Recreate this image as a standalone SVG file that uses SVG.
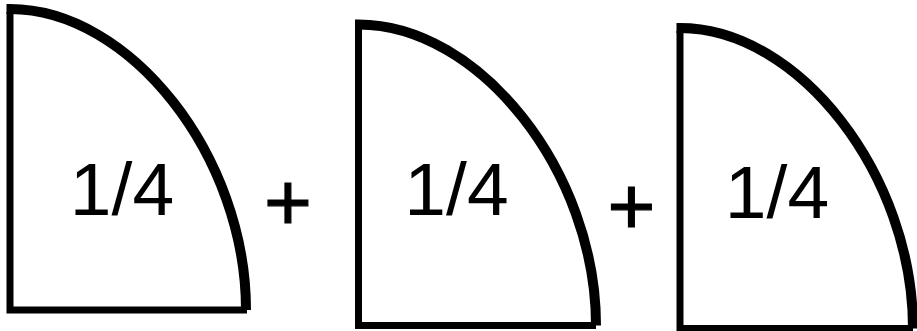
<svg xmlns="http://www.w3.org/2000/svg" width="917" height="331" viewBox="0 0 917 331">
<style>
.edge{fill:none;stroke:#000;stroke-width:7;stroke-linecap:butt}
.arc{fill:none;stroke:#000;stroke-width:10}
.frac{font-family:"Liberation Sans",Arial,sans-serif;font-size:75px;fill:#000;text-anchor:middle}
.op{font-family:"Liberation Sans",Arial,sans-serif;font-size:82px;fill:#000;stroke:#000;stroke-width:1.2;text-anchor:middle}
</style>
<rect width="917" height="331" fill="#fff"/>
<g id="quarter1">
<path class="edge" d="M10,12 V310 H247"/>
<path class="arc" d="M6.5,9 L10,9 C130.4,9 246,156.5 246,310"/>
<text class="frac" x="122" y="215">1/4</text>
</g>
<g id="plus1"><text class="op" x="288" y="230">+</text></g>
<g id="quarter2">
<path class="edge" d="M358.5,27 V325.5 H596"/>
<path class="arc" d="M355,24.5 L358.5,24.5 C479.6,24.5 596,172 596,325.5"/>
<text class="frac" x="456.5" y="214.5">1/4</text>
</g>
<g id="plus2"><text class="op" x="631.5" y="233.5">+</text></g>
<g id="quarter3">
<path class="edge" d="M680,31 V328.5 H913"/>
<path class="arc" d="M676.5,28 L680,28 C798.8,28 913,175.2 913,328.5"/>
<text class="frac" x="777" y="218">1/4</text>
</g>
</svg>
